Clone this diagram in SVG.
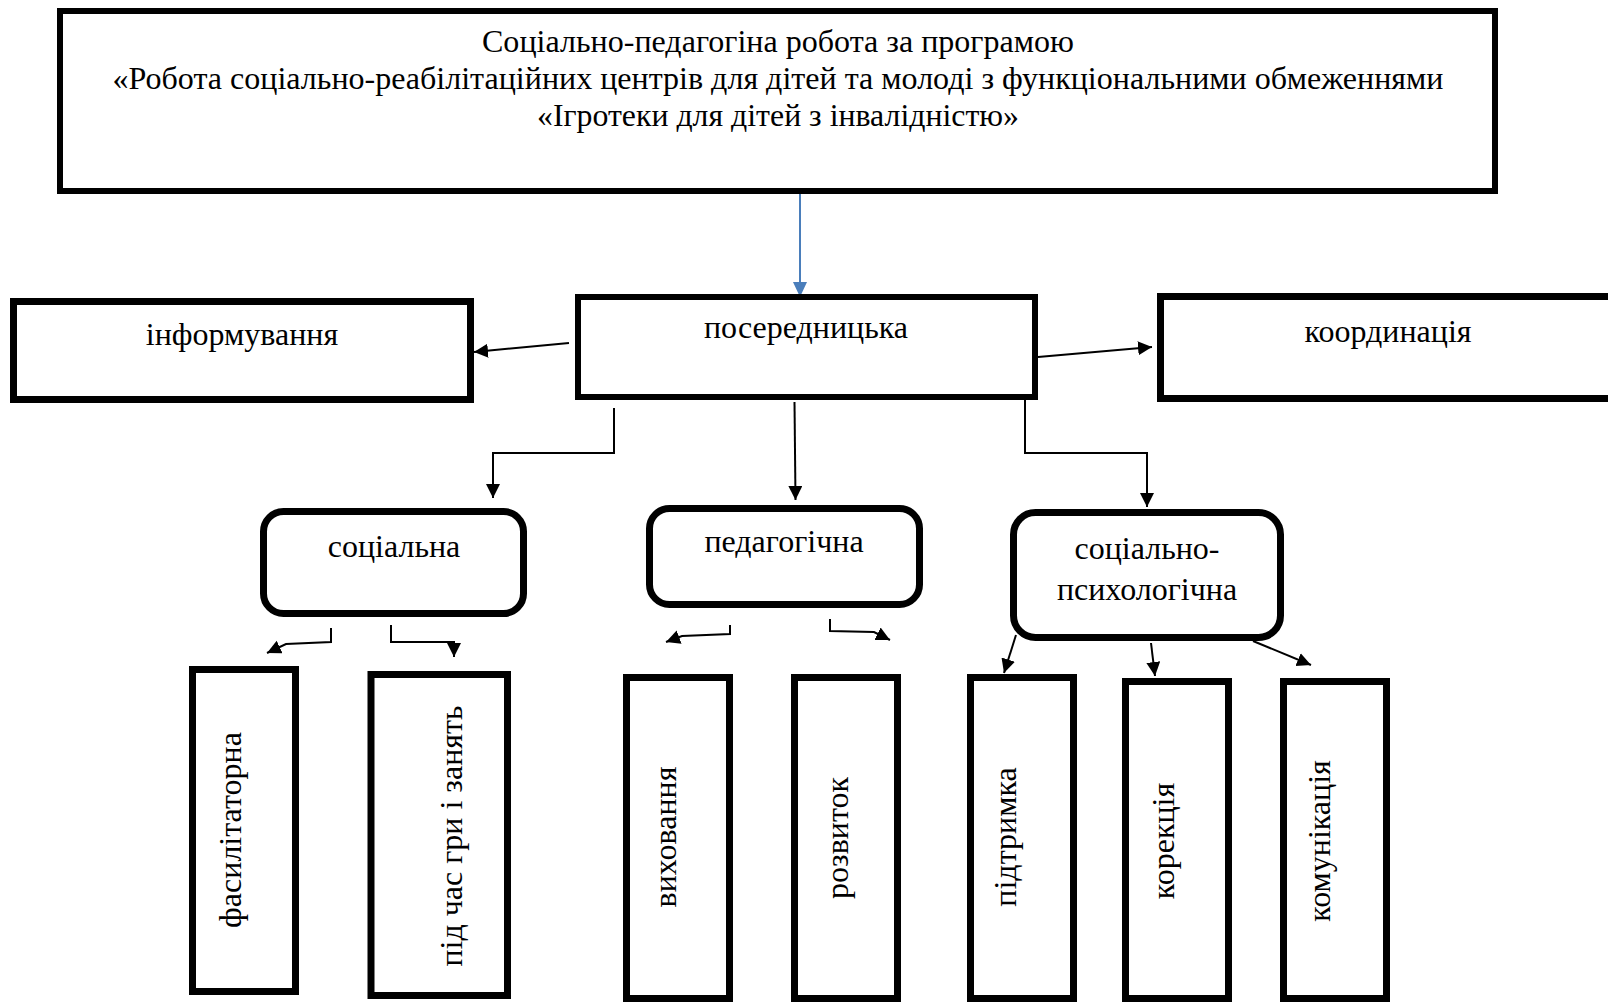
<svg xmlns="http://www.w3.org/2000/svg" width="1608" height="1003" viewBox="0 0 1608 1003">
<style>
  .box{fill:#fff;stroke:#000;stroke-width:7}
  .rbox{fill:#fff;stroke:#000;stroke-width:7}
  .t{font-family:"Liberation Serif","Times New Roman",serif;font-size:32px;fill:#000;text-anchor:middle}
  .c{fill:none;stroke:#000;stroke-width:2}
  .cb{fill:none;stroke:#4a7ebb;stroke-width:2}
</style>
<defs>
  <marker id="ah" markerUnits="userSpaceOnUse" markerWidth="16" markerHeight="16" refX="14" refY="7" orient="auto">
    <path d="M0,0 L14,7 L0,14 Z" fill="#000"/>
  </marker>
  <marker id="ahb" markerUnits="userSpaceOnUse" markerWidth="16" markerHeight="16" refX="15" refY="7" orient="auto">
    <path d="M0,0 L15,7 L0,14 Z" fill="#4a7ebb"/>
  </marker>
</defs>
<rect width="1608" height="1003" fill="#fff"/>

<g id="connectors">
  <path class="cb" d="M800,194 V297" marker-end="url(#ahb)"/>
  <path class="c" d="M569,343 L474,352" marker-end="url(#ah)"/>
  <path class="c" d="M1038,357 L1152,347" marker-end="url(#ah)"/>
  <path class="c" d="M614,408 V453 H493 V498" marker-end="url(#ah)"/>
  <path class="c" d="M794.5,402 L795.5,500" marker-end="url(#ah)"/>
  <path class="c" d="M1025,400 V453 H1147 V507" marker-end="url(#ah)"/>
  <path class="c" d="M331,628 V642 L286,644 L267,653" marker-end="url(#ah)"/>
  <path class="c" d="M391,625 V642 H454 V657" marker-end="url(#ah)"/>
  <path class="c" d="M730,625 V634 L682,636 L666,642" marker-end="url(#ah)"/>
  <path class="c" d="M830,619 V631 L874,632 L890,640" marker-end="url(#ah)"/>
  <path class="c" d="M1016,635 L1004,673" marker-end="url(#ah)"/>
  <path class="c" d="M1151,643 L1155,676" marker-end="url(#ah)"/>
  <path class="c" d="M1253,641 L1311,665" marker-end="url(#ah)"/>
</g>

<g id="n-top">
  <rect x="60" y="11" width="1435" height="180" fill="#fff" stroke="#000" stroke-width="6"/>
  <text class="t" x="778" y="52" textLength="592" lengthAdjust="spacingAndGlyphs">Соціально-педагогіна робота за програмою</text>
  <text class="t" x="778" y="89" textLength="1331" lengthAdjust="spacingAndGlyphs">«Робота соціально-реабілітаційних центрів для дітей та молоді з функціональними обмеженнями</text>
  <text class="t" x="778" y="126" textLength="482" lengthAdjust="spacingAndGlyphs">«Ігротеки для дітей з інвалідністю»</text>
</g>

<g id="n-poserednytska">
  <rect x="578" y="297" width="457" height="100" fill="#fff" stroke="#000" stroke-width="6"/>
  <text class="t" x="806" y="338">посередницька</text>
</g>
<g id="n-informuvannia">
  <rect class="box" x="13.5" y="301.5" width="457" height="98"/>
  <text class="t" x="242" y="345">інформування</text>
</g>
<g id="n-koordynatsiia">
  <rect class="box" x="1160.5" y="296.5" width="500" height="102"/>
  <text class="t" x="1388" y="342">координація</text>
</g>

<g id="n-sotsialna">
  <rect class="rbox" x="263.5" y="511.5" width="260" height="102" rx="20"/>
  <text class="t" x="394" y="557">соціальна</text>
</g>
<g id="n-pedahohichna">
  <rect class="rbox" x="649.5" y="508.5" width="270" height="96" rx="20"/>
  <text class="t" x="784" y="552">педагогічна</text>
</g>
<g id="n-sots-psykh">
  <rect class="rbox" x="1013.5" y="512.5" width="267" height="125" rx="22"/>
  <text class="t" x="1147" y="559">соціально-</text>
  <text class="t" x="1147" y="600">психологічна</text>
</g>

<g id="n-fasylitatorna">
  <rect class="box" x="192.5" y="669.5" width="103" height="322"/>
  <text class="t" transform="translate(234,830) rotate(-90)" x="0" y="7">фасилітаторна</text>
</g>
<g id="n-pid-chas">
  <rect class="box" x="371" y="674.5" width="136.5" height="321"/>
  <text class="t" transform="translate(455,836) rotate(-90)" x="0" y="7">під час гри і занять</text>
</g>
<g id="n-vykhovannia">
  <rect class="box" x="626.5" y="677.5" width="103" height="321"/>
  <text class="t" transform="translate(669,837) rotate(-90)" x="0" y="7">виховання</text>
</g>
<g id="n-rozvytok">
  <rect class="box" x="794.5" y="677.5" width="103" height="321"/>
  <text class="t" transform="translate(841,838) rotate(-90)" x="0" y="7">розвиток</text>
</g>
<g id="n-pidtrymka">
  <rect class="box" x="970.5" y="677.5" width="103" height="321"/>
  <text class="t" transform="translate(1009,837) rotate(-90)" x="0" y="7">підтримка</text>
</g>
<g id="n-korektsiia">
  <rect class="box" x="1125.5" y="681.5" width="103" height="317"/>
  <text class="t" transform="translate(1167,841) rotate(-90)" x="0" y="7">корекція</text>
</g>
<g id="n-komunikatsiia">
  <rect class="box" x="1283.5" y="681.5" width="103" height="317"/>
  <text class="t" transform="translate(1323,841) rotate(-90)" x="0" y="7">комунікація</text>
</g>
</svg>
